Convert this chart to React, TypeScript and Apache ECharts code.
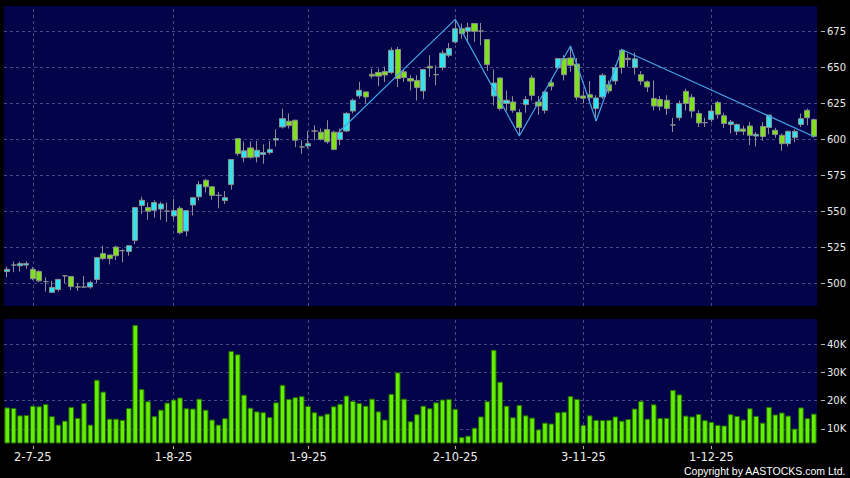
import React, { useEffect, useRef } from 'react';
import * as echarts from 'echarts';

// [open, close, low, high]
const candles: number[][] = [
  [508, 509.5, 504, 511.5], [512.5, 512.5, 507.5, 515], [512, 513.5, 508, 515], [512.5, 513.5, 510, 515],
  [509.5, 503, 502, 511], [508, 501.5, 500.5, 509], [501, 501, 494, 504], [493.5, 497, 493, 501.5],
  [495.5, 502.5, 494, 503], [505, 505, 500, 505.5], [504.5, 497.5, 495, 505], [497.2, 497.2, 494.5, 500],
  [497.2, 497.2, 497, 505], [497.2, 500.3, 496, 501.5], [502.5, 517.7, 500, 518], [520.5, 517, 516, 526],
  [519.5, 517, 513, 519.5], [525, 519, 516, 526], [522.5, 522.5, 514.5, 523.5], [522, 526, 519, 526],
  [529.7, 552.5, 527, 553], [554, 557.6, 548, 560], [552.5, 550, 544, 556], [550.6, 556, 545.5, 557.6],
  [551.5, 555, 544, 556.5], [550, 550, 542.5, 556], [546.7, 550.4, 544, 558.5], [552, 535, 534, 553.5],
  [536.2, 550.4, 532.5, 550.4], [554.3, 559.4, 547, 559.4], [560, 568.5, 557.5, 571], [571.5, 567, 563, 572.5],
  [567, 561, 558, 567], [561, 561, 552, 563.5], [557.4, 559.4, 555, 564], [568.5, 586, 565, 586],
  [600.5, 590, 588.5, 600.5], [587.3, 592, 584, 598.5], [594, 587.5, 586.5, 598.5], [587.7, 592.4, 584, 599],
  [589.5, 590.8, 583, 596.5], [590.8, 593, 589.5, 599], [599.5, 600.5, 595, 607], [608.6, 614.4, 607.5, 621.4],
  [612.6, 609.6, 607.5, 618], [613.3, 599.4, 594.7, 613.5], [594.7, 594.7, 590, 599.3], [595.4, 597, 593.6, 605.8],
  [605.8, 605.8, 599.3, 609.8], [605, 600, 599.3, 607.5], [606.8, 598.3, 597, 613.3], [605, 593, 592.5, 606],
  [599.8, 605, 596, 607.5], [605.8, 618, 605, 619], [619.7, 627.2, 618, 628.4], [630.2, 634.1, 628.4, 640],
  [633, 629.5, 625, 633], [645.3, 644, 642.3, 649.2], [646.5, 644, 637, 649.2], [647.2, 644.8, 640, 650.5],
  [646.5, 662, 645.5, 664], [662.5, 642.3, 636.4, 664.3], [647, 643, 640, 649], [642.3, 640.6, 634, 644.6],
  [641, 636, 627, 644.6], [633.7, 648.6, 628, 648.6], [650.8, 649.7, 643.4, 658.5], [645, 645, 637.6, 651.5],
  [650, 660, 648, 662], [658.5, 663.2, 657, 667], [667.8, 677, 666.6, 683], [677, 673.6, 670, 680.6],
  [675.2, 677.8, 667, 681.3], [680.6, 675.2, 667.8, 681], [675.4, 675.4, 665.5, 681], [669.4, 652, 647.6, 669.4],
  [630.2, 639.2, 623.7, 648.6], [642.7, 621.4, 620, 643], [625, 627.2, 620, 634], [626, 620.2, 618.5, 630],
  [618.6, 608.2, 602.8, 621], [624.2, 627.7, 618.5, 630], [642.7, 630.6, 627, 644.6], [626, 623.2, 617, 630],
  [620.2, 633, 618, 634], [639.4, 637, 634, 642.3], [649.7, 656.2, 649, 656.2], [656.2, 645, 641, 658.5],
  [656.6, 651.5, 647, 664.3], [652.4, 629.3, 627, 656.6], [630.2, 628.6, 625, 634], [631, 629, 625, 640.6],
  [621.4, 628.8, 612.8, 630.7], [629.5, 644.6, 628, 646], [638, 633.7, 631.8, 641], [640.6, 650, 638, 652],
  [662, 650, 645.8, 663], [656.4, 655.5, 650.4, 659.7], [650, 656, 645, 660.5], [645, 640.6, 638, 647.5],
  [640, 636.4, 633, 641], [628.4, 623.2, 620, 641], [627.7, 623, 620, 630], [627.2, 621.4, 617, 630.7],
  [610, 610, 605, 615], [615.1, 625, 613, 627], [633.4, 625, 620, 635.3], [629.3, 619.7, 615, 631.5],
  [618, 611.4, 608.6, 620.2], [611.6, 611.6, 608.6, 615], [613.7, 619.7, 612, 623.7], [625.6, 617.4, 614.4, 626.7],
  [616.4, 611, 608, 618.5], [610.3, 612.1, 604, 613.5], [605.6, 610.3, 603, 611], [607.2, 605.6, 603, 609.5],
  [609.3, 602.8, 596, 612], [602.3, 603.5, 595, 605], [609, 602, 599, 612], [608.2, 616.9, 603.5, 617],
  [606.3, 603.3, 601, 608], [602.8, 597, 592, 604], [597, 605.6, 595, 606], [601.2, 605.6, 598, 607],
  [610.3, 614.4, 608.6, 618], [620.2, 615, 609.8, 621.4], [613.7, 602.1, 601, 614.5],
];

// volume in thousands
const volumes: number[] = [
  17.6, 17.4, 14.8, 14.9, 18.2, 18.0, 18.8, 14.5, 11.5, 12.9,
  17.8, 13.9, 19.2, 11.5, 27.4, 23.2, 13.6, 13.6, 13.2, 17.4,
  46.8, 24.1, 19.8, 14.5, 16.8, 19.3, 20.4, 21.1, 17.3, 17.2,
  20.7, 16.8, 13.3, 11.5, 13.8, 37.6, 36.4, 22.1, 17.5, 16.2,
  15.9, 14.2, 19.4, 25.6, 20.6, 21.2, 21.6, 18.1, 15.9, 14.7,
  15.4, 18.0, 18.9, 21.8, 19.9, 19.2, 18.2, 20.7, 16.2, 13.3,
  22.4, 30.0, 20.7, 12.7, 15.2,
  18.2, 17.3, 19.4, 20.4, 20.6, 17.1, 7.1, 7.6, 10.4, 14.4,
  19.8, 38.0, 26.7, 18.2, 14.1, 18.5, 14.8, 14.0, 9.8, 12.2,
  11.9, 15.9, 16.1, 21.6, 20.6, 11.4, 14.8, 13.2, 13.1, 13.2,
  14.4, 12.9, 13.5, 17.2, 19.9, 13.6, 18.7, 13.9, 13.9, 23.8,
  22.2, 14.7, 14.4, 15.3, 13.1, 12.5, 11.4, 11.2, 15.2, 14.6,
  13.3, 17.3, 14.6, 12.2, 17.8, 15.1, 15.8, 14.7, 10.1, 17.6,
  13.8, 15.4,
];

const zigzagIndex: number[] = [52, 70, 80, 88, 92, 96, 126];
const zigzagValue: number[] = [606, 683.5, 602.3, 665, 612.8, 662.5, 602];

const tickIndex: number[] = [4, 26, 47, 70, 90, 110];
const tickLabels: string[] = ['2-7-25', '1-8-25', '1-9-25', '2-10-25', '3-11-25', '1-12-25'];
const priceTicks: number[] = [500, 525, 550, 575, 600, 625, 650, 675];
const volumeTicks: number[] = [10, 20, 30, 40];

const categories: string[] = candles.map((_, i) => String(i));

const GRID_COLOR = '#484882';
const NAVY = '#03034a';
const LABEL = '#ececec';

export default function App() {
  const ref = useRef<HTMLDivElement>(null);
  useEffect(() => {
    document.body.style.margin = '0';
    document.body.style.background = '#000';
    if (!ref.current) return;
    const chart = echarts.init(ref.current, null, { renderer: 'svg' });
    const isTick = (idx: number) => tickIndex.indexOf(idx) >= 0;
    const gridLineStyle = { type: [3, 3] as any, color: GRID_COLOR, width: 1 };
    const vLines = tickIndex.map((i) => ({ xAxis: i }));
    chart.setOption({
      animation: false,
      backgroundColor: '#000',
      grid: [
        { left: 4, top: 6, width: 813, height: 300, show: true, backgroundColor: NAVY, borderWidth: 0 },
        { left: 4, top: 319, width: 813, height: 124, show: true, backgroundColor: NAVY, borderWidth: 0 },
      ],
      xAxis: [
        {
          type: 'category', gridIndex: 0, data: categories, boundaryGap: true,
          axisLine: { show: false }, axisTick: { show: false }, axisLabel: { show: false }, splitLine: { show: false },
        },
        {
          type: 'category', gridIndex: 1, data: categories, boundaryGap: true, offset: 3,
          axisLine: { show: false },
          axisTick: { show: true, interval: (i: number) => isTick(i), alignWithLabel: true, length: 3, lineStyle: { color: '#bbbbbb' } },
          axisLabel: {
            show: true, interval: (i: number) => isTick(i), margin: 5,
            formatter: (_v: string, i: number) => { const k = tickIndex.indexOf(i); return k >= 0 ? tickLabels[k] : ''; },
            color: LABEL, fontFamily: 'DejaVu Sans', fontSize: 11.5,
          },
          splitLine: { show: false },
        },
      ],
      yAxis: [
        {
          type: 'value', gridIndex: 0, position: 'right', min: 484, max: 692.8, offset: 4,
          splitLine: { show: false }, axisLine: { show: false },
          axisTick: { show: true, length: 4, customValues: priceTicks, lineStyle: { color: '#bbbbbb' } },
          axisLabel: { customValues: priceTicks, color: LABEL, fontFamily: 'DejaVu Sans', fontSize: 10, margin: 6 },
        },
        {
          type: 'value', gridIndex: 1, position: 'right', min: 5, max: 48.9, offset: 4,
          splitLine: { show: false }, axisLine: { show: false },
          axisTick: { show: true, length: 4, customValues: volumeTicks, lineStyle: { color: '#bbbbbb' } },
          axisLabel: { customValues: volumeTicks, formatter: (v: number) => `${v}K`, color: LABEL, fontFamily: 'DejaVu Sans', fontSize: 10, margin: 6 },
        },
      ],
      series: [
        {
          type: 'candlestick', xAxisIndex: 0, yAxisIndex: 0, data: candles, barWidth: 5.6,
          itemStyle: { color: '#2fe4f0', color0: '#7fe01c', borderColor: '#8e8e8e', borderColor0: '#8e8e8e', borderColorDoji: '#8e8e8e', borderWidth: 1 },
          markLine: {
            silent: true, symbol: ['none', 'none'], z: 1, label: { show: false }, lineStyle: gridLineStyle,
            data: [...priceTicks.map((v) => ({ yAxis: v })), ...vLines],
          },
        },
        {
          type: 'line', xAxisIndex: 0, yAxisIndex: 0, symbol: 'none', z: 3,
          data: zigzagIndex.map((i, k) => [i, zigzagValue[k]]),
          lineStyle: { color: '#45a3e3', width: 1.2 },
        },
        {
          type: 'bar', xAxisIndex: 1, yAxisIndex: 1, data: volumes, barWidth: 5.6,
          itemStyle: { color: '#62f000', borderColor: '#266b00', borderWidth: 1 },
          markLine: {
            silent: true, symbol: ['none', 'none'], z: 1, label: { show: false }, lineStyle: gridLineStyle,
            data: [...volumeTicks.map((v) => ({ yAxis: v })), ...vLines],
          },
        },
      ],
      graphic: [
        {
          type: 'text', right: 4, top: 465,
          style: { text: 'Copyright by AASTOCKS.com Ltd.', fill: '#ffffff', font: '10.5px "Liberation Sans", Arial, sans-serif' },
        },
      ],
    });
    return () => chart.dispose();
  }, []);
  return <div ref={ref} style={{ width: 850, height: 478 }} />;
}
